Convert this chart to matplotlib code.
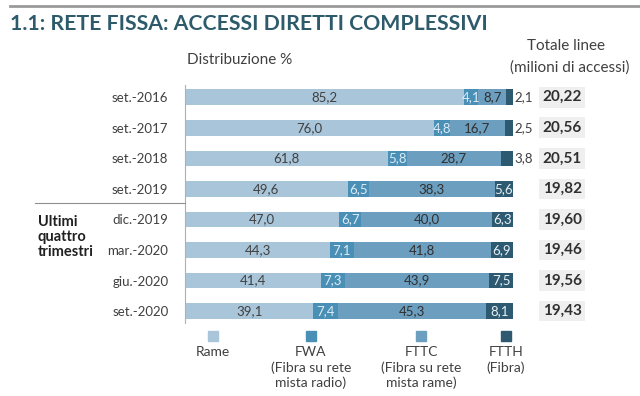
import matplotlib.pyplot as plt
from matplotlib.patches import Rectangle
from matplotlib.lines import Line2D

# dati
periodi = ['set.-2016', 'set.-2017', 'set.-2018', 'set.-2019',
           'dic.-2019', 'mar.-2020', 'giu.-2020', 'set.-2020']
rame = [85.2, 76.0, 61.8, 49.6, 47.0, 44.3, 41.4, 39.1]
fwa = [4.1, 4.8, 5.8, 6.5, 6.7, 7.1, 7.3, 7.4]
fttc = [8.7, 16.7, 28.7, 38.3, 40.0, 41.8, 43.9, 45.3]
ftth = [2.1, 2.5, 3.8, 5.6, 6.3, 6.9, 7.5, 8.1]
totali = [20.22, 20.56, 20.51, 19.82, 19.60, 19.46, 19.56, 19.43]
serie_nomi = ['Rame', 'FWA\n(Fibra su rete\nmista radio)',
              'FTTC\n(Fibra su rete\nmista rame)', 'FTTH\n(Fibra)']

colori = ['#a9c5da', '#4a8fb6', '#6c9ebf', '#2d5a70']
col_testo = ['#404040', '#dcebf5', '#303030', '#e8f0f5']
FONT = 'Lato'
plt.rcParams['font.family'] = FONT


def fmt(v):
    return f"{v:.1f}".replace('.', ',')


fig = plt.figure(figsize=(6.4, 3.96), dpi=100)
ax = fig.add_axes([185 / 640, 1 - 323 / 396, 328 / 640, 238 / 396])

y = list(range(len(periodi)))
serie = [rame, fwa, fttc, ftth]
left = [0.0] * len(periodi)
for k, vals in enumerate(serie):
    ax.barh(y, vals, left=left, height=0.51, color=colori[k], linewidth=0)
    for i, v in enumerate(vals):
        cx = left[i] + v / 2
        if k == 3 and i < 3:
            ax.text(left[i] + v + 0.3, i, fmt(v), ha='left', va='center',
                    fontsize=9.5, color='#404040', clip_on=False)
        else:
            ax.text(cx, i, fmt(v), ha='center', va='center',
                    fontsize=9.5, color=col_testo[k])
    left = [a + b for a, b in zip(left, vals)]

# totali
for i, t in enumerate(totali):
    ax.text(115, i, f"{t:.2f}".replace('.', ','), ha='center', va='center',
            fontsize=11, fontweight='bold', color='#303030', clip_on=False,
            bbox=dict(boxstyle='square,pad=0.22', fc='#efefef', ec='none'))

ax.set_xlim(0, 100)
ax.set_ylim(7.39, -0.40)
ax.set_yticks(y)
ax.set_yticklabels(periodi, fontsize=9.5, color='#404040')
ax.tick_params(axis='y', length=0, pad=12)
ax.set_xticks([])
for s in ['top', 'right', 'bottom']:
    ax.spines[s].set_visible(False)
ax.spines['left'].set_color('#b0b0b0')
ax.spines['left'].set_linewidth(0.8)

# titolo e testi
fig.add_artist(Line2D([0.015, 1.0], [1 - 6 / 396] * 2, color='#9a9a9a', lw=2))
fig.text(10 / 640, 1 - 24 / 396, '1.1: RETE FISSA: ACCESSI DIRETTI COMPLESSIVI',
         fontsize=15.3, fontweight='bold', color='#2d5b6b', va='center')
fig.text(187 / 640, 1 - 60 / 396, 'Distribuzione %', fontsize=11,
         color='#404040', va='center')
fig.text(566 / 640, 1 - 46 / 396, 'Totale linee', fontsize=11,
         color='#404040', va='center', ha='center')
fig.text(570 / 640, 1 - 68 / 396, '(milioni di accessi)', fontsize=11,
         color='#404040', va='center', ha='center')

# linea separatrice e gruppo
fig.add_artist(Line2D([35 / 640, 185 / 640], [1 - 203 / 396] * 2,
                      color='#909090', lw=0.8))
fig.text(38 / 640, 1 - 237 / 396, 'Ultimi\nquattro\ntrimestri', fontsize=10.5,
         fontweight='bold', color='#202020', va='center', linespacing=1.12)

# legenda
leg_x = [213, 311, 421, 506]
for k, nome in enumerate(serie_nomi):
    fig.add_artist(Rectangle((leg_x[k] / 640 - 5 / 640, 1 - 341 / 396),
                             10 / 640, 10 / 396, color=colori[k]))
    fig.text(leg_x[k] / 640, 1 - 346 / 396, nome, fontsize=10, color='#404040',
             ha='center', va='top', linespacing=1.3)

fig.savefig('out.png', dpi=100)
